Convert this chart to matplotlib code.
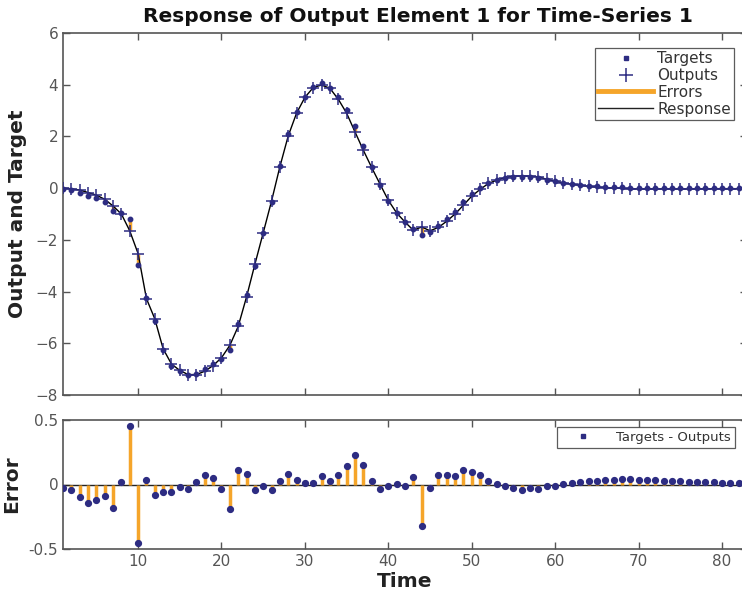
import numpy as np
import matplotlib
matplotlib.use("Agg")
import matplotlib.pyplot as plt
from matplotlib.lines import Line2D

# ---- data ----
time = list(range(1, 84))
outputs = [0.0, -0.03, -0.07, -0.17, -0.27, -0.43, -0.69, -1.0, -1.65, -2.53,
           -4.27, -5.05, -6.21, -6.8, -7.05, -7.21, -7.21, -7.08, -6.86, -6.56,
           -6.08, -5.35, -4.21, -2.95, -1.73, -0.50, 0.83, 2.02, 2.9, 3.51,
           3.89, 3.99, 3.86, 3.44, 2.9, 2.18, 1.47, 0.80, 0.16, -0.47,
           -0.96, -1.31, -1.63, -1.50, -1.65, -1.52, -1.28, -1.0, -0.66, -0.31,
           -0.05, 0.18, 0.31, 0.41, 0.46, 0.47, 0.46, 0.44, 0.34, 0.27,
           0.20, 0.15, 0.11, 0.07, 0.04, 0.02, 0.0, -0.01, -0.02, -0.03,
           -0.03, -0.03, -0.03, -0.03, -0.03, -0.03, -0.025, -0.025, -0.02, -0.02,
           -0.02, -0.02, -0.02]
errors = [-0.026, -0.04, -0.10, -0.14, -0.12, -0.09, -0.18, 0.02, 0.45, -0.455,
          0.035, -0.085, -0.06, -0.06, -0.02, -0.035, 0.02, 0.075, 0.05, -0.035,
          -0.19, 0.11, 0.08, -0.045, -0.015, -0.04, 0.025, 0.08, 0.035, 0.01,
          0.015, 0.065, 0.03, 0.075, 0.14, 0.225, 0.155, 0.03, -0.035, -0.01,
          0.005, -0.015, 0.055, -0.32, -0.03, 0.075, 0.075, 0.065, 0.115, 0.095,
          0.07, 0.03, 0.005, -0.013, -0.028, -0.04, -0.03, -0.035, -0.015, -0.008,
          0.005, 0.013, 0.018, 0.028, 0.03, 0.033, 0.038, 0.04, 0.04, 0.038,
          0.035, 0.033, 0.03, 0.028, 0.025, 0.023, 0.02, 0.018, 0.016, 0.014,
          0.012, 0.01, 0.008]
targets = [o + e for o, e in zip(outputs, errors)]

top_yticks = [-8, -6, -4, -2, 0, 2, 4, 6]
bot_yticks = [-0.5, 0, 0.5]
bot_yticklabels = ["-0.5", "0", "0.5"]
xticks = [10, 20, 30, 40, 50, 60, 70, 80]

navy = "#2d2c82"
orange = "#f5a52a"
spine_c = "#555555"
tick_c = "#555555"

fig = plt.figure(figsize=(7.42, 5.93), dpi=100)
W, H = 742, 593
def ax_rect(l, r, t, b):
    return [l / W, 1 - b / H, (r - l) / W, (b - t) / H]

ax1 = fig.add_axes(ax_rect(63, 747, 33, 395))
ax2 = fig.add_axes(ax_rect(63, 747, 420, 549))

xlim = (1, 83)

# ---- top plot ----
ax1.vlines(time, outputs, targets, colors=orange, lw=2.5, zorder=2)
ax1.plot(time, outputs, color="black", lw=1.0, zorder=3)
ax1.plot(time, targets, ls="none", marker="o", ms=3.2, color=navy, zorder=4)
ax1.plot(time, outputs, ls="none", marker="+", ms=9, mew=1.1, color=navy, zorder=5)
ax1.set_xlim(*xlim)
ax1.set_ylim(-8, 6)
ax1.set_yticks(top_yticks)
ax1.set_xticks(xticks)
ax1.set_xticklabels([])
fig.text(418 / W, 1 - 17 / H, "Response of Output Element 1 for Time-Series 1",
         fontsize=14.5, fontweight="bold", color="#111111", ha="center", va="center")
ax1.set_ylabel("Output and Target", fontsize=14.5, fontweight="bold", color="#222222", labelpad=6)

handles = [
    Line2D([], [], ls="none", marker="s", ms=2.5, color=navy),
    Line2D([], [], ls="none", marker="+", ms=10, mew=1.1, color=navy),
    Line2D([], [], color=orange, lw=3.5),
    Line2D([], [], color="#222222", lw=1.0),
]
leg = ax1.legend(handles, ["Targets", "Outputs", "Errors", "Response"],
                 loc="upper right", fontsize=11, frameon=True, fancybox=False,
                 handlelength=3.6, handletextpad=0.25, borderpad=0.2,
                 labelspacing=0.12, borderaxespad=0)
leg.set_bbox_to_anchor((734 / W, 1 - 48 / H), transform=fig.transFigure)
leg.get_frame().set_edgecolor("#333333")
leg.get_frame().set_linewidth(0.9)
for t in leg.get_texts():
    t.set_color("#333333")

# ---- bottom plot ----
ax2.axhline(0, color="#222222", lw=1.0, zorder=2)
ax2.vlines(time, 0, errors, colors=orange, lw=2.5, zorder=3)
ax2.plot(time, errors, ls="none", marker="o", ms=4.2, color=navy, zorder=4,
         label="Targets - Outputs")
ax2.set_xlim(*xlim)
ax2.set_ylim(-0.5, 0.5)
ax2.set_yticks(bot_yticks)
ax2.set_yticklabels(bot_yticklabels)
ax2.set_xticks(xticks)
ax2.set_xlabel("Time", fontsize=14.5, fontweight="bold", color="#222222", labelpad=2)
ax2.set_ylabel("Error", fontsize=14.5, fontweight="bold", color="#222222", labelpad=5)
leg2 = ax2.legend([Line2D([], [], ls="none", marker="s", ms=2.5, color=navy)],
                  ["Targets - Outputs"], loc="upper right", fontsize=9.5,
                  frameon=True, fancybox=False, handlelength=3.4, handletextpad=0.8,
                  borderpad=0.3, borderaxespad=0)
leg2.set_bbox_to_anchor((735 / W, 1 - 427 / H), transform=fig.transFigure)
leg2.get_frame().set_edgecolor("#333333")
leg2.get_frame().set_linewidth(0.9)
for t in leg2.get_texts():
    t.set_color("#333333")

for ax in (ax1, ax2):
    for s in ax.spines.values():
        s.set_color(spine_c)
        s.set_linewidth(1.2)
    ax.tick_params(direction="in", length=5, width=1, colors=spine_c,
                   labelcolor=tick_c, labelsize=11, top=True, right=True)

fig.savefig("out.png", dpi=100)
